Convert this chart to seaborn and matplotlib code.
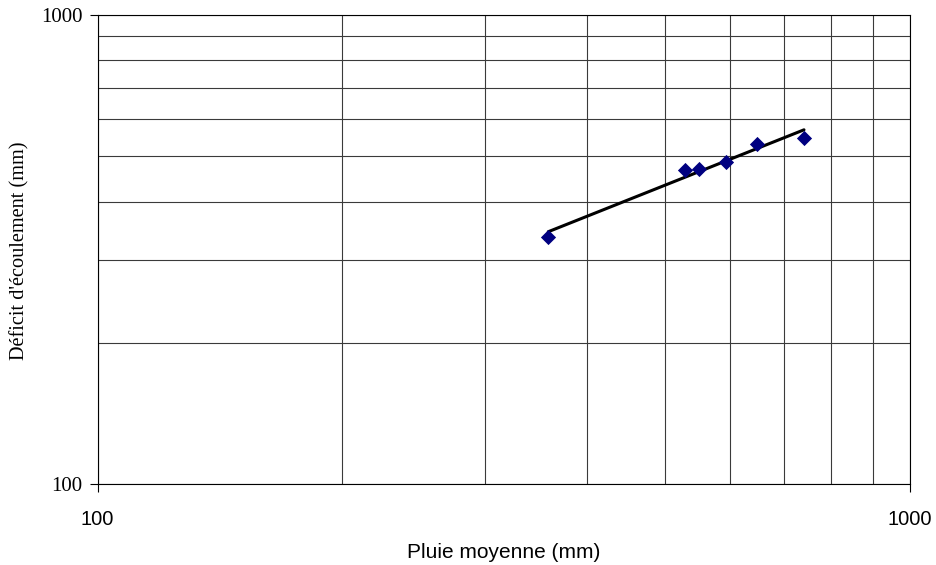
import numpy as np
import pandas as pd
import matplotlib
matplotlib.use("Agg")
import matplotlib.pyplot as plt
import seaborn as sns
from matplotlib.ticker import LogLocator, NullFormatter, FixedLocator

# Data
pluie = [358.8, 528.6, 550.5, 593.8, 648.8, 740.5]
deficit = [336.8, 467.2, 469.6, 486.8, 530.8, 546.1]
x_ticks = [100, 1000]
y_ticks = [100, 1000]
x_label = "Pluie moyenne (mm)"
y_label = "Déficit d'écoulement (mm)"

sns.set_theme(style="white")
plt.rcParams['font.family'] = ['Liberation Sans', 'DejaVu Sans']
plt.rcParams['text.color'] = 'black'
plt.rcParams['xtick.color'] = 'black'
plt.rcParams['ytick.color'] = 'black'

df = pd.DataFrame({"pluie": pluie, "deficit": deficit})

# power trendline fitted on log data
b, a = np.polyfit(np.log10(df["pluie"]), np.log10(df["deficit"]), 1)
xs = np.array([min(pluie), max(pluie)])
trend = pd.DataFrame({"pluie": xs, "deficit": 10 ** (a + b * np.log10(xs))})

fig = plt.figure(figsize=(9.36, 5.65), dpi=100)
ax = fig.add_axes([97.5 / 936, 1 - 484 / 565, (910 - 97.5) / 936, (484 - 15) / 565])
ax.set_xscale("log")
ax.set_yscale("log")
ax.set_xlim(100, 1000)
ax.set_ylim(100, 1000)

sns.lineplot(data=trend, x="pluie", y="deficit", ax=ax, color="black", lw=2.2, zorder=3)
sns.scatterplot(data=df, x="pluie", y="deficit", ax=ax, marker="D", s=60,
                color="#000080", edgecolor="#000080", linewidth=0, zorder=4)

ax.xaxis.set_major_locator(FixedLocator(x_ticks))
ax.yaxis.set_major_locator(FixedLocator(y_ticks))
ax.xaxis.set_minor_locator(LogLocator(base=10, subs=np.arange(2, 10)))
ax.yaxis.set_minor_locator(LogLocator(base=10, subs=np.arange(2, 10)))
ax.xaxis.set_minor_formatter(NullFormatter())
ax.yaxis.set_minor_formatter(NullFormatter())
ax.set_xticklabels([str(v) for v in x_ticks], fontsize=14.5, family=['Liberation Sans'], color='black')
ax.set_yticklabels([str(v) for v in y_ticks], fontsize=15, family=['Liberation Serif'], color='black')

ax.grid(True, which="both", color="#3a3a3a", lw=0.8)
ax.tick_params(which="major", direction="out", length=6, width=0.8, color="black", pad=5, bottom=True, left=True)
ax.tick_params(axis="x", which="major", pad=13)
ax.tick_params(which="minor", length=0)
for s in ax.spines.values():
    s.set_color("black")
    s.set_linewidth(0.8)

ax.set_xlabel("")
ax.set_ylabel("")
fig.text(503.5 / 936, 1 - 553 / 565, x_label, fontsize=15, family=['Liberation Sans'],
         ha="center", va="center", color="black")
fig.text(20 / 936, 1 - 251 / 565, y_label, fontsize=14.6, family=['Liberation Serif'],
         ha="center", va="center", rotation=90, color="black")

fig.savefig("out.png", dpi=100, facecolor="white")
